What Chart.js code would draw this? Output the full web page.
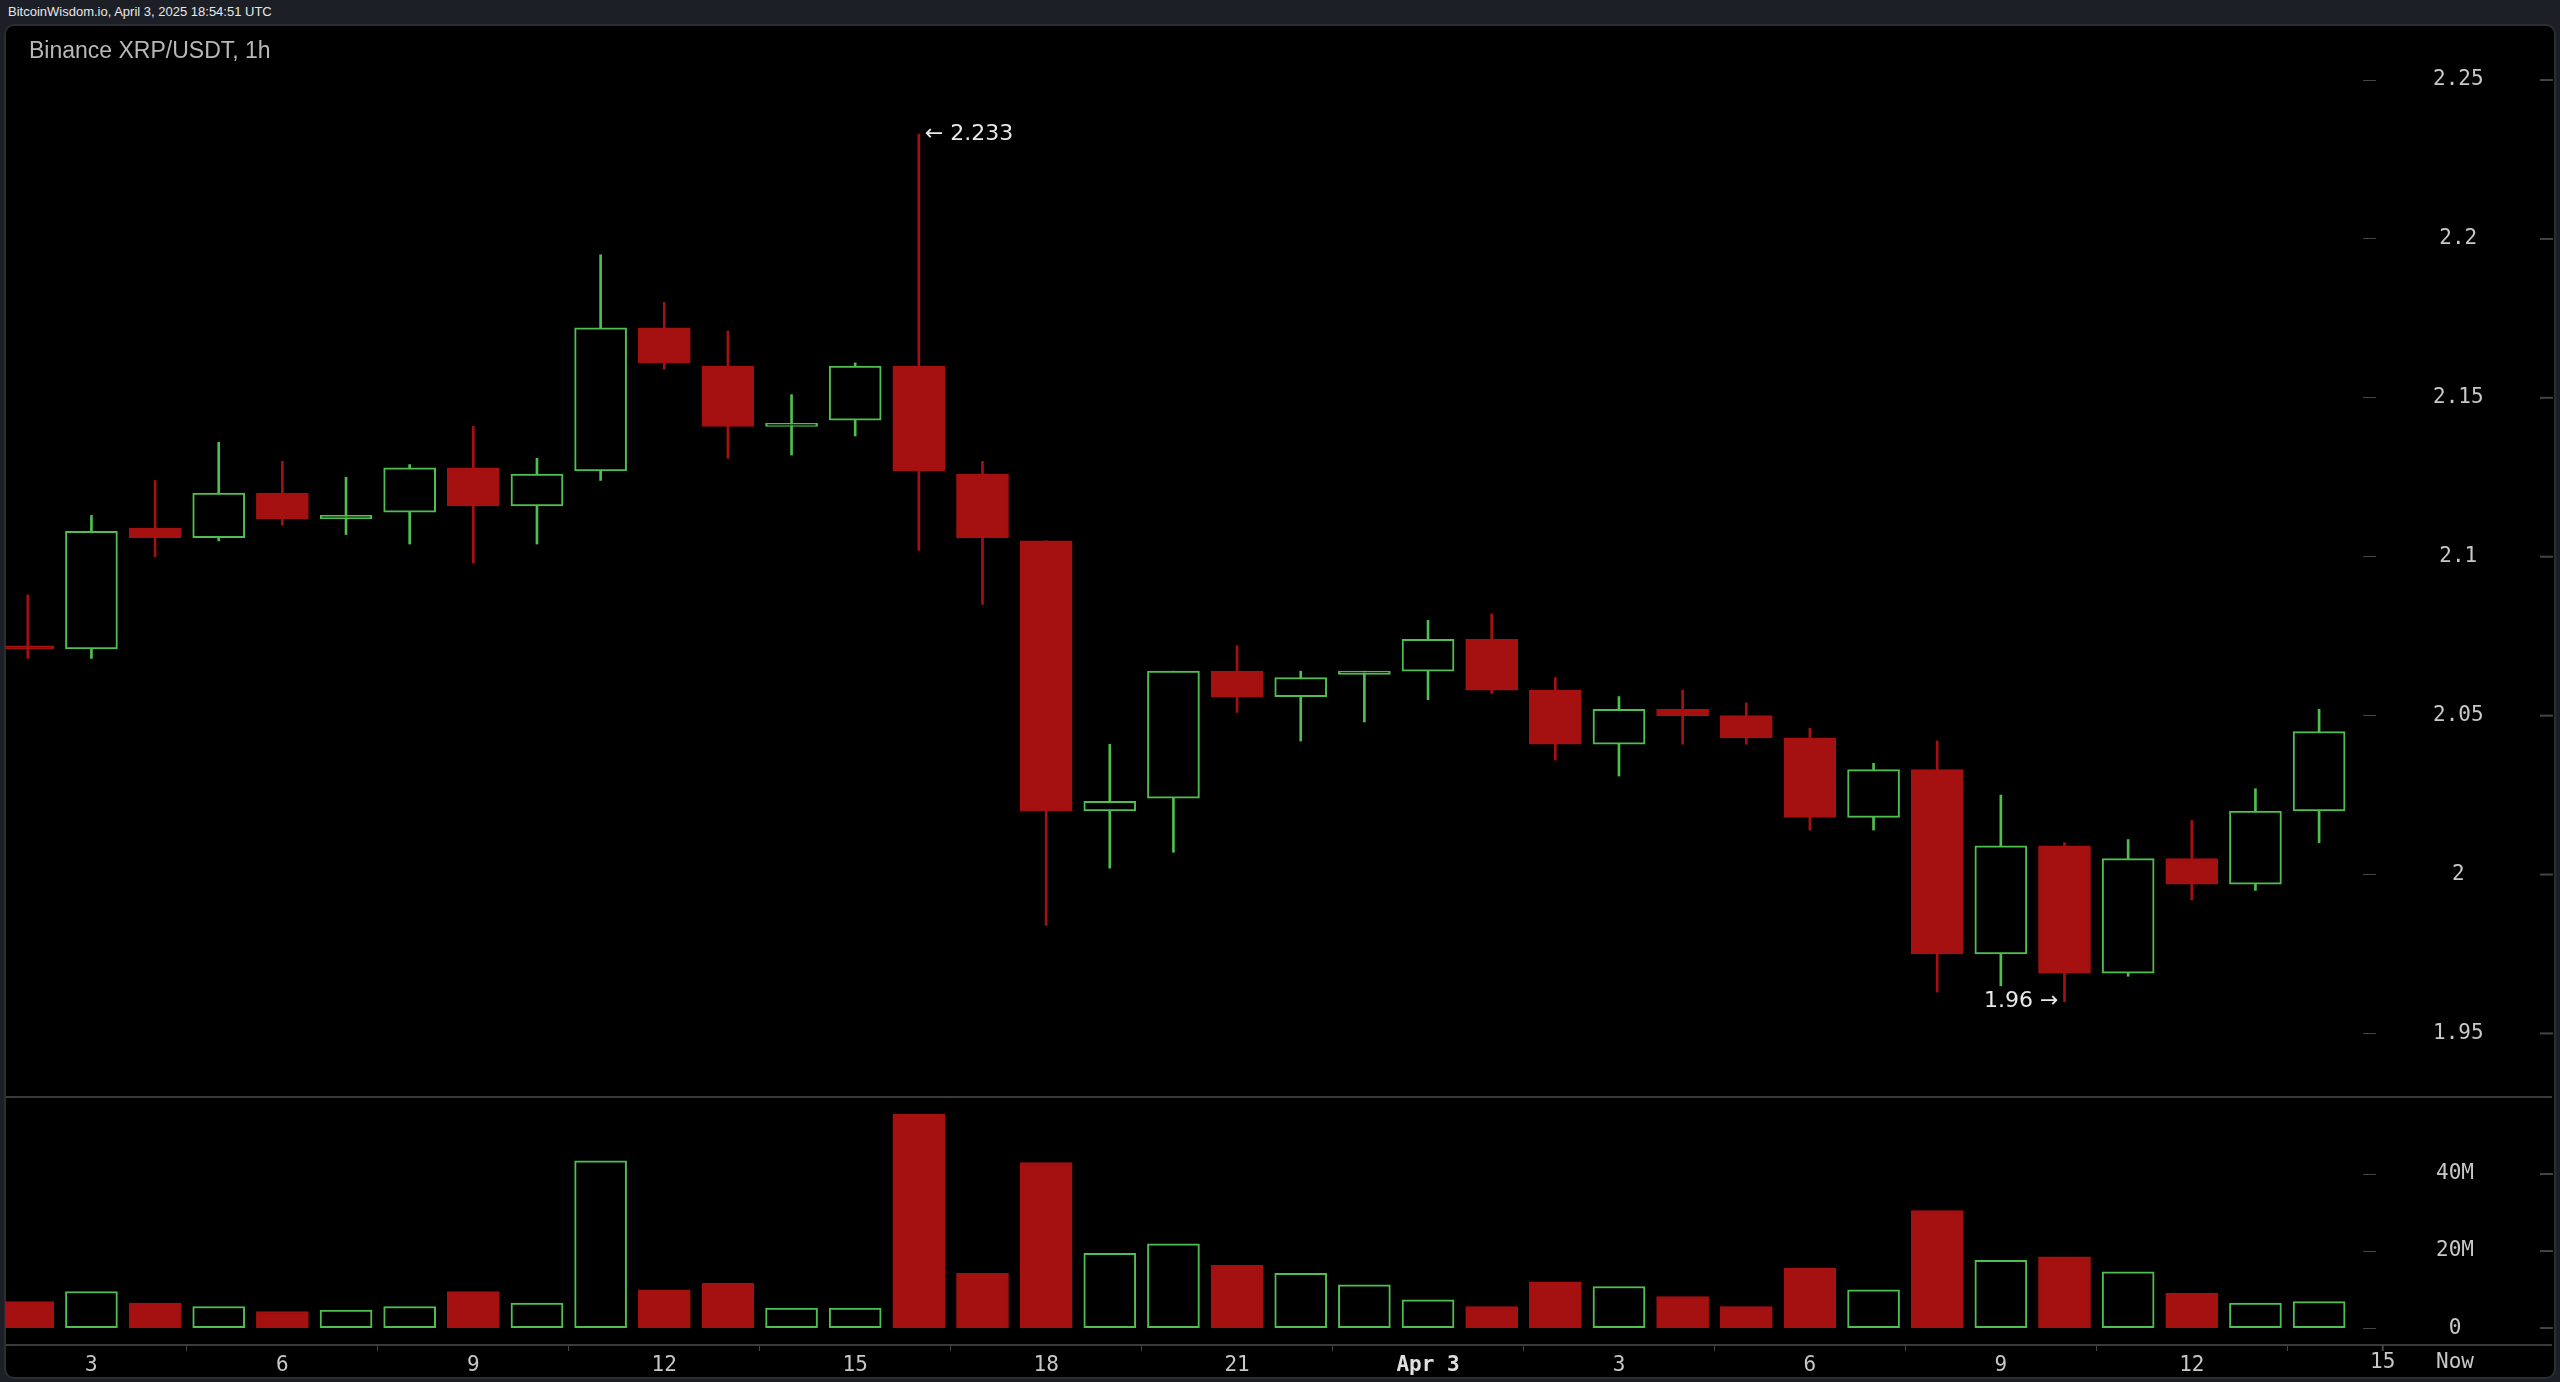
<!DOCTYPE html>
<html><head><meta charset="utf-8">
<script src="https://cdn.jsdelivr.net/npm/chart.js@4.4.1/dist/chart.umd.min.js"></script>
<style>
html,body{margin:0;padding:0;background:#1c1f26;width:2560px;height:1382px;overflow:hidden}
#hdr{position:absolute;left:8px;top:4px;font:13px "Liberation Sans",Arial,sans-serif;color:#e8e8e8}
#frame{position:absolute;left:4px;top:24px;width:2548px;height:1351px;background:#000;border:2px solid #2a2d33;border-radius:10px}
#title{position:absolute;left:29px;top:37px;font:23px "Liberation Sans",Arial,sans-serif;color:#b8b8b8}
canvas{position:absolute;left:0;top:0}
</style></head><body>
<div id="hdr">BitcoinWisdom.io, April 3, 2025 18:54:51 UTC</div>
<div id="frame"></div>
<canvas id="c" width="2560" height="1382"></canvas>
<div id="title">Binance XRP/USDT, 1h</div>
<script>
const hours = [2,3,4,5,6,7,8,9,10,11,12,13,14,15,16,17,18,19,20,21,22,23,0,1,2,3,4,5,6,7,8,9,10,11,12,13,14];
const opens  = [2.072,2.071,2.109,2.106,2.120,2.112,2.114,2.128,2.116,2.127,2.172,2.160,2.141,2.143,2.160,2.126,2.105,2.020,2.024,2.064,2.056,2.063,2.064,2.074,2.058,2.041,2.052,2.050,2.043,2.018,2.033,1.975,2.009,1.969,2.005,1.997,2.020];
const highs  = [2.088,2.113,2.124,2.136,2.130,2.125,2.129,2.141,2.131,2.195,2.180,2.171,2.151,2.161,2.233,2.130,2.105,2.041,2.064,2.072,2.064,2.064,2.080,2.082,2.062,2.056,2.058,2.054,2.046,2.035,2.042,2.025,2.010,2.011,2.017,2.027,2.052];
const lows   = [2.068,2.068,2.100,2.105,2.110,2.107,2.104,2.098,2.104,2.124,2.159,2.131,2.132,2.138,2.102,2.085,1.984,2.002,2.007,2.051,2.042,2.048,2.055,2.057,2.036,2.031,2.041,2.041,2.014,2.014,1.963,1.965,1.960,1.968,1.992,1.995,2.010];
const closes = [2.071,2.108,2.106,2.120,2.112,2.113,2.128,2.116,2.126,2.172,2.161,2.141,2.142,2.160,2.127,2.106,2.020,2.023,2.064,2.056,2.062,2.064,2.074,2.058,2.041,2.052,2.050,2.043,2.018,2.033,1.975,2.009,1.969,2.005,1.997,2.020,2.045];
const volumes = [6.9,9.5,6.5,5.6,4.3,4.7,5.6,9.5,6.5,43.4,9.9,11.6,5.2,5.2,55.5,14.2,43.0,19.4,21.9,16.3,14.2,11.2,7.3,5.6,12.0,10.8,8.2,5.6,15.5,9.9,30.5,17.6,18.5,14.6,9.0,6.5,6.9];
const priceTicks = [1.95,2.0,2.05,2.1,2.15,2.2,2.25];
const priceTickLabels = ["1.95","2","2.05","2.1","2.15","2.2","2.25"];
const volTicks = [0,20,40];
const volTickLabels = ["0","20M","40M"];
const xTickIdx = [1,4,7,10,13,16,19,22,25,28,31,34];
const xTickLabels = ["3","6","9","12","15","18","21","Apr 3","3","6","9","12"];

const GREEN='#4fbf4f', RED='#a51111';
const up = closes.map((c,i)=>c>=opens[i]);
const idx = closes.map((_,i)=>i);
const body = idx.map(i=>({x:i,y:[opens[i],closes[i]]}));
const wick = idx.map(i=>({x:i,y:[lows[i],highs[i]]}));
const vol = idx.map(i=>({x:i,y:[0,volumes[i]*1e6]}));
const col = up.map(u=>u?GREEN:RED);

const MONO='"DejaVu Sans Mono",monospace';
const fixLayout = {
  id:'fixLayout',
  afterLayout(ch){
    const L=5,R=2363,T=33,S=1097,B=1345;
    const x=ch.scales.x,y=ch.scales.y,v=ch.scales.v;
    x.left=L;x.right=R;x.width=R-L;x.top=B;x.bottom=1382;x.height=1382-B;
    y.top=T;y.bottom=S;y.height=S-T;y.left=R;y.right=2560;y.width=2560-R;
    v.top=S;v.bottom=B;v.height=B-S;v.left=R;v.right=2560;v.width=2560-R;
    [x,y,v].forEach(s=>{s._labelItems=null;s._gridLineItems=null;s.configure();});
    Object.assign(ch.chartArea,{left:L,right:R,top:T,bottom:B,width:R-L,height:B-T});
  }
};
const extras = {
  id:'extras',
  afterDraw(ch){
    const c=ch.ctx, a=ch.chartArea, x=ch.scales.x, y=ch.scales.y, v=ch.scales.v;
    c.save();
    c.strokeStyle='#3a3a3a'; c.lineWidth=2;
    c.beginPath(); c.moveTo(6,1097); c.lineTo(2552,1097); c.stroke();
    c.beginPath(); c.moveTo(6,a.bottom); c.lineTo(2552,a.bottom); c.stroke();
    c.strokeStyle='#444';
    priceTicks.forEach(t=>{const py=y.getPixelForValue(t); c.beginPath(); c.moveTo(2540,py); c.lineTo(2553,py); c.stroke();});
    volTicks.forEach(t=>{const py=v.getPixelForValue(t*1e6); c.beginPath(); c.moveTo(2540,py); c.lineTo(2553,py); c.stroke();});
    c.fillStyle='#c8c8c8'; c.font='21px '+MONO; c.textAlign='center'; c.textBaseline='middle';
    c.fillText('15', x.getPixelForValue(37), a.bottom+18);
    c.fillText('Now', 2455, a.bottom+18);
    c.beginPath(); c.moveTo(x.getPixelForValue(37),a.bottom); c.lineTo(x.getPixelForValue(37),a.bottom+6); c.stroke();
    c.fillStyle='#e8e8e8'; c.font='22px "DejaVu Sans",sans-serif';
    c.textAlign='left';
    c.fillText('\u2190 2.233', x.getPixelForValue(14)+6, y.getPixelForValue(highs[14]));
    c.textAlign='right';
    c.fillText('1.96 \u2192', x.getPixelForValue(32)-6, y.getPixelForValue(lows[32]));
    c.restore();
  }
};

new Chart(document.getElementById('c'),{
  type:'bar',
  data:{datasets:[
    {data:wick,yAxisID:'y',backgroundColor:col,barThickness:2,grouped:false,order:3},
    {data:body,yAxisID:'y',backgroundColor:up.map(u=>u?'#000':RED),borderColor:col,borderWidth:2,borderSkipped:false,barThickness:52,grouped:false,order:2,minBarLength:2},
    {data:vol,yAxisID:'v',backgroundColor:up.map(u=>u?'#000':RED),borderColor:col,borderWidth:2,borderSkipped:false,barThickness:52,grouped:false,order:1}
  ]},
  options:{
    responsive:false,devicePixelRatio:1,animation:false,
    layout:{padding:{top:33,left:5,right:0,bottom:0}},
    plugins:{legend:{display:false},tooltip:{enabled:false}},
    scales:{
      x:{type:'linear',min:-0.358,max:36.69,offset:false,
        afterBuildTicks(s){s.ticks=xTickIdx.map(v=>({value:v}));},
        ticks:{autoSkip:false,maxRotation:0,padding:2,
          callback:(v)=>xTickLabels[xTickIdx.indexOf(v)],
          color:(ctx)=>xTickLabels[ctx.index]==='Apr 3'?'#e0e0e0':'#c8c8c8',
          font:(ctx)=>xTickLabels[ctx.index]==='Apr 3'?{family:MONO,size:21,weight:'bold'}:{family:MONO,size:21}},
        grid:{display:true,drawOnChartArea:false,tickLength:6,color:'#444'},border:{display:false}},
      y:{type:'linear',position:'right',stack:'p',stackWeight:1064,min:1.930,max:2.2648,
        afterBuildTicks(s){s.ticks=priceTicks.map(v=>({value:v}));},
        ticks:{crossAlign:'center',padding:57,color:'#c8c8c8',font:{family:MONO,size:21},
          callback:(v)=>priceTickLabels[priceTicks.indexOf(v)]},
        grid:{drawOnChartArea:false,tickLength:13,color:'#444'},border:{display:false}},
      v:{type:'linear',position:'right',stack:'p',stackWeight:248,min:-4.4e6,max:60e6,
        afterBuildTicks(s){s.ticks=volTicks.map(v=>({value:v*1e6}));},
        ticks:{crossAlign:'center',padding:60,color:'#c8c8c8',font:{family:MONO,size:21},
          callback:(v)=>volTickLabels[volTicks.indexOf(v/1e6)]},
        grid:{drawOnChartArea:false,tickLength:13,color:'#444'},border:{display:false}}
    }
  },
  plugins:[fixLayout,extras]
});
</script></body></html>
